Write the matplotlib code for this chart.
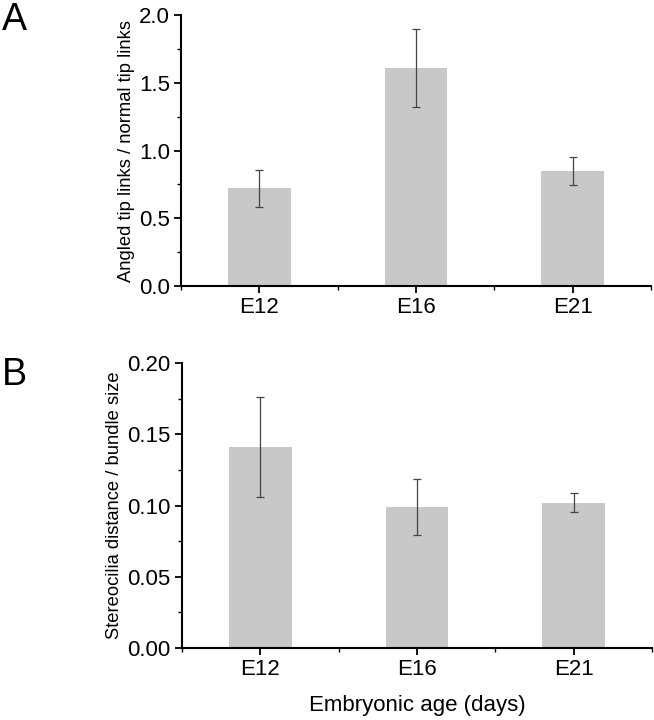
import matplotlib
matplotlib.use("Agg")
import matplotlib.pyplot as plt
import numpy as np
from matplotlib.ticker import MultipleLocator, FormatStrFormatter

plt.rcParams['font.family'] = ['Liberation Sans', 'DejaVu Sans']

categories = ["E12", "E16", "E21"]
ratio_vals = [0.72, 1.61, 0.85]
ratio_err = [0.135, 0.29, 0.105]
dist_vals = [0.141, 0.099, 0.102]
dist_err = [0.035, 0.0197, 0.0066]

bar_color = "#c8c8c8"
err_color = "#444444"

fig = plt.figure(figsize=(6.54, 7.2), dpi=100)
axA = fig.add_axes([0.2768, 0.6028, 0.7186, 0.3762])
axB = fig.add_axes([0.278, 0.1004, 0.719, 0.395])

x = np.arange(1, len(categories) + 1)

def style(ax, vals, errs, ymax, major, ylabel):
    ax.bar(x, vals, width=0.4, color=bar_color, edgecolor="none", zorder=2)
    ax.errorbar(x, vals, yerr=errs, fmt="none", ecolor=err_color, elinewidth=0.9,
                capsize=3, capthick=0.9, zorder=3)
    ax.set_xlim(0.5, 3.5)
    ax.set_ylim(0, ymax)
    ax.set_xticks(x)
    ax.set_xticklabels(categories)
    ax.xaxis.set_minor_locator(MultipleLocator(0.5))
    ax.yaxis.set_major_locator(MultipleLocator(major))
    ax.yaxis.set_minor_locator(MultipleLocator(major / 2))
    for s in ["top", "right"]:
        ax.spines[s].set_visible(False)
    for s in ["left", "bottom"]:
        ax.spines[s].set_linewidth(1.5)
        ax.spines[s].set_color("black")
    ax.tick_params(axis="both", which="major", direction="out", length=5, width=1.3,
                   labelsize=16, pad=3)
    ax.tick_params(axis="both", which="minor", direction="out", length=3, width=1.0)
    ax.set_ylabel(ylabel, fontsize=13.2, labelpad=3)

style(axA, ratio_vals, ratio_err, 2.0, 0.5, "Angled tip links / normal tip links")
axA.yaxis.set_major_formatter(FormatStrFormatter("%.1f"))
style(axB, dist_vals, dist_err, 0.20, 0.05, "Stereocilia distance / bundle size")
axB.yaxis.set_major_formatter(FormatStrFormatter("%.2f"))
axB.set_xlabel("Embryonic age (days)", fontsize=16, labelpad=11)

fig.text(0.003, 0.997, "A", fontsize=27, va="top", ha="left")
fig.text(0.003, 0.504, "B", fontsize=27, va="top", ha="left")

fig.savefig("out.png", dpi=100)
